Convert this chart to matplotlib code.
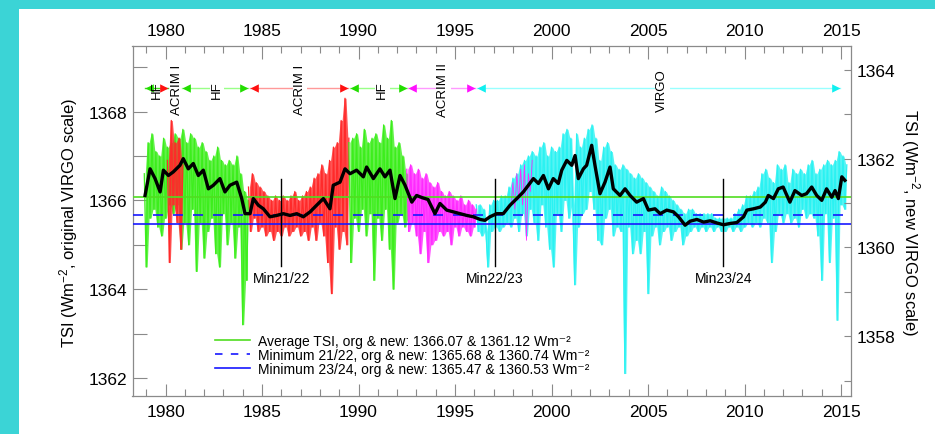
import numpy as np
import matplotlib
matplotlib.use('Agg')
import matplotlib.pyplot as plt
from matplotlib.path import Path
from matplotlib.patches import Rectangle
from matplotlib.lines import Line2D
from matplotlib.ticker import MultipleLocator

plt.rcParams['font.family'] = ['Liberation Sans', 'DejaVu Sans']
plt.rcParams['mathtext.fontset'] = 'custom'
plt.rcParams['mathtext.rm'] = 'Liberation Sans'
plt.rcParams['mathtext.it'] = 'Liberation Sans:italic'

# ---------------- data ----------------
STEP = 0.1  # years between samples of the daily-value series

hf1_start = 1978.9
hf1_tsi = [1366.6, 1364.5, 1367.3, 1365.6, 1367.5, 1365.8, 1367.1, 1365.4, 1367.0, 1365.2,
           1367.4, 1365.6, 1367.2, 1365.9, 1367.3, 1365.7, 1367.5, 1365.9, 1367.4, 1364.9,
           1367.6, 1365.5, 1367.3, 1365.0, 1367.5, 1365.8, 1367.4, 1364.4, 1367.2, 1365.5,
           1367.3, 1364.7, 1367.1, 1365.3, 1366.9, 1365.6, 1367.0, 1364.8, 1367.2, 1364.5,
           1366.9, 1365.7, 1366.8, 1365.0, 1366.9, 1365.5, 1366.8, 1364.7, 1367.0, 1365.4,
           1366.6, 1363.2, 1366.2, 1364.2, 1366.0]

acrim1a_start = 1980.1
acrim1a_tsi = [1366.9, 1364.6, 1367.8, 1365.9, 1367.3, 1365.5, 1367.4, 1364.9, 1366.8]

acrim1b_start = 1984.3
acrim1b_tsi = [1366.3, 1365.3, 1366.6, 1365.6, 1366.4, 1365.3, 1366.3, 1365.4, 1366.2, 1365.2,
               1366.1, 1365.3, 1366.0, 1365.1, 1366.1, 1365.3, 1366.0, 1365.2, 1366.1, 1365.4,
               1366.0, 1365.2, 1366.1, 1365.3, 1366.2, 1365.4, 1366.0, 1365.2, 1366.1, 1365.3,
               1366.2, 1365.1, 1366.3, 1365.4, 1366.5, 1365.1, 1366.6, 1365.5, 1366.8, 1365.2,
               1366.6, 1364.6, 1366.9, 1363.9, 1367.2, 1365.4, 1367.3, 1364.9, 1367.8, 1365.3,
               1368.3, 1365.0, 1367.4]

hf2_start = 1989.5
hf2_tsi = [1367.3, 1364.6, 1367.4, 1365.6, 1367.5, 1365.3, 1367.2, 1365.8, 1367.6, 1365.2,
           1367.3, 1365.7, 1367.4, 1364.2, 1367.5, 1365.6, 1367.3, 1365.1, 1367.7, 1365.8,
           1367.4, 1364.9, 1367.8, 1364.0, 1367.2, 1365.5, 1367.3, 1365.7, 1367.0, 1365.4,
           1366.6, 1365.6]

acrim2_start = 1992.5
acrim2_tsi = [1366.7, 1365.3, 1366.8, 1365.5, 1366.6, 1365.2, 1366.7, 1364.8, 1366.5, 1365.3,
              1366.6, 1364.6, 1366.4, 1365.0, 1366.3, 1365.1, 1366.4, 1365.3, 1366.2, 1365.2,
              1366.1, 1365.3, 1366.2, 1365.0, 1366.1, 1365.4, 1366.0, 1365.2, 1366.1, 1365.4,
              1365.9, 1365.3, 1366.0, 1365.2, 1365.9, 1365.4, 1365.8]

acrim2b_start = 1997.9
acrim2b_tsi = [1365.9, 1366.4, 1365.8, 1366.6, 1366.0, 1366.7, 1365.9, 1366.8, 1365.1, 1366.6,
               1366.2, 1366.9]

virgo_start = 1996.1
virgo_tsi = [1365.9, 1365.3, 1365.9, 1365.2, 1365.8, 1365.3, 1364.5, 1365.9, 1365.3, 1366.0,
             1365.4, 1366.0, 1365.3, 1366.1, 1365.4, 1366.1, 1365.5, 1366.3, 1365.4, 1366.5,
             1365.6, 1366.6, 1365.3, 1366.8, 1365.7, 1366.9, 1365.2, 1367.0, 1365.8, 1367.1,
             1365.5, 1367.0, 1365.1, 1367.2, 1365.9, 1367.3, 1365.4, 1367.0, 1364.9, 1367.2,
             1364.5, 1367.1, 1365.7, 1367.2, 1365.3, 1367.5, 1366.0, 1367.6, 1365.6, 1367.4,
             1365.9, 1364.1, 1367.5, 1365.4, 1367.2, 1365.7, 1367.4, 1365.8, 1367.6, 1366.2,
             1367.7, 1365.8, 1367.4, 1365.1, 1366.9, 1365.0, 1367.2, 1365.6, 1367.3, 1365.8,
             1367.1, 1365.2, 1366.8, 1365.4, 1366.7, 1365.3, 1366.8, 1362.1, 1366.7, 1365.4,
             1366.6, 1364.8, 1366.5, 1365.1, 1366.6, 1364.8, 1366.5, 1365.3, 1366.4, 1363.9,
             1366.3, 1365.2, 1366.2, 1365.4, 1366.1, 1365.0, 1366.3, 1365.3, 1366.2, 1365.4,
             1366.1, 1365.1, 1366.0, 1365.3, 1365.9, 1365.4, 1365.8, 1365.0, 1365.7, 1365.2,
             1365.8, 1365.3, 1365.8, 1365.4, 1365.7, 1365.3, 1365.7, 1365.4, 1365.7, 1365.3,
             1365.7, 1365.4, 1365.7, 1365.3, 1365.6, 1365.4, 1365.6, 1365.3, 1365.6, 1365.3,
             1365.6, 1365.4, 1365.6, 1365.3, 1365.7, 1365.4, 1365.8, 1365.3, 1365.9, 1365.4,
             1366.1, 1365.5, 1366.1, 1365.4, 1366.2, 1365.5, 1366.3, 1365.4, 1366.6, 1365.6,
             1366.7, 1365.5, 1366.5, 1364.6, 1366.4, 1365.3, 1366.8, 1365.7, 1366.7, 1365.5,
             1366.8, 1365.7, 1366.4, 1365.5, 1366.7, 1365.6, 1366.6, 1365.4, 1366.7, 1365.8,
             1366.6, 1365.6, 1366.8, 1365.7, 1366.9, 1365.6, 1366.6, 1365.2, 1366.7, 1364.2,
             1366.8, 1365.7, 1366.9, 1364.6, 1366.8, 1365.6, 1366.9, 1363.3, 1367.1, 1365.9,
             1367.0, 1365.8, 1366.8]

smooth_year = [1978.94, 1979.2, 1979.46, 1979.72, 1979.89, 1980.15, 1980.4, 1980.75, 1980.92, 1981.18,
               1981.44, 1981.7, 1981.96, 1982.22, 1982.48, 1982.82, 1983.08, 1983.34, 1983.69, 1983.95,
               1984.12, 1984.38, 1984.55, 1984.81, 1985.07, 1985.41, 1985.76, 1986.1, 1986.45, 1986.8,
               1987.14, 1987.49, 1987.83, 1988.18, 1988.52, 1988.69, 1989.04, 1989.3, 1989.56, 1989.9,
               1990.25, 1990.42, 1990.77, 1991.11, 1991.37, 1991.63, 1991.89, 1992.15, 1992.41, 1992.76,
               1993.01, 1993.3, 1993.6, 1993.96, 1994.22, 1994.57, 1994.91, 1995.26, 1995.61, 1995.95,
               1996.3, 1996.55, 1996.81, 1997.16, 1997.5, 1997.85, 1998.2, 1998.54, 1998.8, 1999.06,
               1999.32, 1999.58, 1999.84, 2000.09, 2000.35, 2000.53, 2000.79, 2001.05, 2001.22, 2001.39,
               2001.65, 2001.82, 2002.08, 2002.25, 2002.51, 2002.77, 2003.03, 2003.2, 2003.55, 2003.81,
               2004.07, 2004.41, 2004.76, 2005.02, 2005.36, 2005.63, 2005.97, 2006.32, 2006.58, 2006.92,
               2007.18, 2007.53, 2007.88, 2008.22, 2008.57, 2008.91, 2009.26, 2009.6, 2009.95, 2010.12,
               2010.47, 2010.82, 2011.08, 2011.23, 2011.5, 2011.75, 2012.0, 2012.35, 2012.61, 2012.96,
               2013.21, 2013.48, 2013.74, 2014.0, 2014.25, 2014.52, 2014.69, 2014.86, 2015.04, 2015.2]
smooth_tsi = [1366.11, 1366.71, 1366.49, 1366.19, 1366.68, 1366.56, 1366.64, 1366.79, 1366.94, 1366.71,
              1366.83, 1366.56, 1366.68, 1366.26, 1366.34, 1366.49, 1366.19, 1366.34, 1366.41, 1366.04,
              1365.70, 1365.70, 1366.04, 1365.89, 1365.81, 1365.63, 1365.66, 1365.70, 1365.66, 1365.70,
              1365.63, 1365.74, 1365.89, 1366.04, 1365.81, 1366.34, 1366.41, 1366.71, 1366.60, 1366.68,
              1366.53, 1366.75, 1366.49, 1366.71, 1366.53, 1366.68, 1366.04, 1366.56, 1366.34, 1365.96,
              1366.11, 1366.06, 1366.02, 1365.70, 1365.93, 1365.78, 1365.74, 1365.70, 1365.66, 1365.63,
              1365.57, 1365.55, 1365.63, 1365.70, 1365.70, 1365.89, 1366.04, 1366.19, 1366.34, 1366.49,
              1366.38, 1366.56, 1366.26, 1366.49, 1366.38, 1366.68, 1366.90, 1366.79, 1367.01, 1366.49,
              1366.71, 1366.79, 1367.24, 1366.79, 1366.15, 1366.41, 1366.75, 1366.26, 1366.11, 1366.26,
              1366.11, 1365.96, 1366.04, 1365.78, 1365.81, 1365.70, 1365.78, 1365.74, 1365.63, 1365.44,
              1365.53, 1365.57, 1365.51, 1365.54, 1365.49, 1365.45, 1365.48, 1365.50, 1365.63, 1365.78,
              1365.81, 1365.85, 1365.96, 1366.11, 1366.04, 1366.26, 1366.30, 1365.96, 1366.22, 1366.11,
              1366.15, 1366.30, 1366.11, 1366.00, 1366.26, 1366.07, 1366.22, 1366.04, 1366.53, 1366.45]

avg_org, avg_new = 1366.07, 1361.12
min2122_org, min2122_new = 1365.68, 1360.74
min2324_org, min2324_new = 1365.47, 1360.53
scale_offset = 4.94  # original minus new VIRGO scale

min_years = [1986.0, 1997.07, 2008.9]
min_labels = ['Min21/22', 'Min22/23', 'Min23/24']

inst_names = ['HF', 'ACRIM I', 'HF', 'ACRIM I', 'HF', 'ACRIM II', 'VIRGO']
inst_label_x = [1979.56, 1980.6, 1982.67, 1986.97, 1991.22, 1994.38, 2005.73]
arrow_start = [1978.94, 1980.84, 1984.38, 1989.56, 1992.58, 1996.12]
arrow_end = [1980.15, 1984.29, 1989.47, 1992.50, 1996.04, 2014.95]
arrow_line_col = ['#44dd22', '#99ff88', '#ff9999', '#99ff88', '#ff99ff', '#99ffff']
arrow_left_col = ['#22dd00', '#22dd00', '#ff1010', '#22dd00', '#ff10ff', '#10f0f0']
arrow_right_col = ['#ff1010', '#22dd00', '#ff1010', '#22dd00', '#ff10ff', '#10f0f0']

x_ticks = [1980, 1985, 1990, 1995, 2000, 2005, 2010, 2015]

# ---------------- figure ----------------
W, H = 935, 435
fig = plt.figure(figsize=(W / 100, H / 100), dpi=100)
fig.patch.set_facecolor('white')
turq = '#3bd4d6'
fig.patches.append(Rectangle((0, 0), 19 / W, 1, transform=fig.transFigure,
                             facecolor=turq, edgecolor='none', zorder=-5))
fig.patches.append(Rectangle((0, 1 - 10 / H), 1, 10 / H, transform=fig.transFigure,
                             facecolor=turq, edgecolor='none', zorder=-5))

ax = fig.add_axes([132.5 / W, 1 - 396.7 / H, (850.7 - 132.5) / W, (396.7 - 47.3) / H])
ylo, yhi = 1361.60, 1369.47
ax.set_xlim(1978.29, 2015.5)
ax.set_ylim(ylo, yhi)

GREEN, RED, MAG, CYAN = '#3cee1c', '#ff2a2a', '#ff2aff', '#2af2f2'


def series(start, vals):
    return start + STEP * np.arange(len(vals)), np.asarray(vals)


def draw_series(start, vals, col, lw=0.9, fill=True):
    t, v = series(start, vals)
    if fill and len(v) > 1:
        tm = 0.5 * (t[:-1] + t[1:])
        lo = np.minimum(v[:-1], v[1:])
        hi = np.maximum(v[:-1], v[1:])
        ax.fill_between(tm, lo, hi, color=col, alpha=0.8, lw=0, zorder=2)
    ax.plot(t, v, color=col, lw=lw, zorder=2)


draw_series(hf1_start, hf1_tsi, GREEN)
draw_series(acrim1a_start, acrim1a_tsi, RED)
draw_series(acrim1b_start, acrim1b_tsi, RED)
draw_series(hf2_start, hf2_tsi, GREEN)
draw_series(virgo_start, virgo_tsi, CYAN)
draw_series(acrim2_start, acrim2_tsi, MAG)
draw_series(acrim2b_start, acrim2b_tsi, MAG, lw=0.6, fill=False)

ax.axhline(avg_org, color='#50dd20', lw=1.2, zorder=3)
ax.axhline(min2122_org, color='#1818ff', lw=1.2, dashes=(6, 6), zorder=3)
ax.axhline(min2324_org, color='#1818ff', lw=1.2, zorder=3)

ax.plot(smooth_year, smooth_tsi, color='black', lw=2.4, zorder=5, solid_joinstyle='round')

for yr, lab in zip(min_years, min_labels):
    ax.plot([yr, yr], [1364.53, 1366.49], color='black', lw=1.0, zorder=6)
    ax.text(yr, 1364.24, lab, ha='center', va='center', fontsize=10, zorder=6)

# instrument arrows
arr_y = 1368.54
left_head = Path([(0, 0), (1, 0.5), (1, -0.5), (0, 0)],
                 [Path.MOVETO, Path.LINETO, Path.LINETO, Path.CLOSEPOLY])
right_head = Path([(0, 0), (-1, 0.5), (-1, -0.5), (0, 0)],
                  [Path.MOVETO, Path.LINETO, Path.LINETO, Path.CLOSEPOLY])
for x0, x1, lc, cl, cr in zip(arrow_start, arrow_end, arrow_line_col, arrow_left_col, arrow_right_col):
    ax.plot([x0, x1], [arr_y, arr_y], color=lc, lw=1.0, zorder=3)
    ax.plot([x0], [arr_y], marker=left_head, ms=12, color=cl, mec='none', zorder=4)
    ax.plot([x1], [arr_y], marker=right_head, ms=12, color=cr, mec='none', zorder=4)

for i, (name, xl) in enumerate(zip(inst_names, inst_label_x)):
    bb = None if i < 2 else dict(facecolor='white', edgecolor='none', pad=1)
    ax.text(xl, arr_y - 0.04, name, rotation=90, ha='center', va='center', fontsize=9.5,
            bbox=bb, zorder=5)

# legend
handles = [Line2D([], [], color='#50dd20', lw=1.2),
           Line2D([], [], color='#1818ff', lw=1.2, dashes=(4.5, 5)),
           Line2D([], [], color='#1818ff', lw=1.2)]
labels = [f'Average TSI, org & new: {avg_org:.2f} & {avg_new:.2f} Wm\u207b\u00b2',
          f'Minimum 21/22, org & new: {min2122_org:.2f} & {min2122_new:.2f} Wm\u207b\u00b2',
          f'Minimum 23/24, org & new: {min2324_org:.2f} & {min2324_new:.2f} Wm\u207b\u00b2']
leg = ax.legend(handles, labels, loc='upper left', bbox_to_anchor=(0.115, 0.178),
                frameon=False, fontsize=10, handlelength=2.5, handletextpad=0.6,
                labelspacing=0.0, borderpad=0, borderaxespad=0)

# axes styling
spine_col = '#8a8a8a'
for s in ax.spines.values():
    s.set_color(spine_col)
    s.set_linewidth(0.9)

ax.set_xticks(x_ticks)
ax.xaxis.set_minor_locator(MultipleLocator(1))
ax.yaxis.set_major_locator(MultipleLocator(2))
ax.yaxis.set_minor_locator(MultipleLocator(1))
ax.tick_params(axis='x', which='both', direction='in', top=True, bottom=True,
               labeltop=True, labelbottom=True, color=spine_col, labelsize=12.5, pad=6)
ax.tick_params(axis='x', which='major', length=9, width=0.8)
ax.tick_params(axis='x', which='minor', length=5, width=0.8)
ax.tick_params(axis='y', which='both', direction='in', left=True, right=False,
               color=spine_col, labelsize=12.5, pad=4, length=10, width=0.8)

ax2 = ax.twinx()
ax2.set_ylim(ylo - scale_offset, yhi - scale_offset)
ax2.yaxis.set_major_locator(MultipleLocator(2))
ax2.yaxis.set_minor_locator(MultipleLocator(1))
ax2.tick_params(axis='y', which='both', direction='in', color=spine_col, labelsize=12.5,
                pad=4, length=5, width=0.8)
for s in ax2.spines.values():
    s.set_visible(False)

fig.text(69 / W, 1 - 223 / H, 'TSI (Wm$^{-2}$, original VIRGO scale)', rotation=90,
         ha='center', va='center', fontsize=12)
fig.text(910 / W, 1 - 223 / H, 'TSI (Wm$^{-2}$, new VIRGO scale)', rotation=270,
         ha='center', va='center', fontsize=12)

fig.savefig('out.png', dpi=100, facecolor=fig.get_facecolor())
